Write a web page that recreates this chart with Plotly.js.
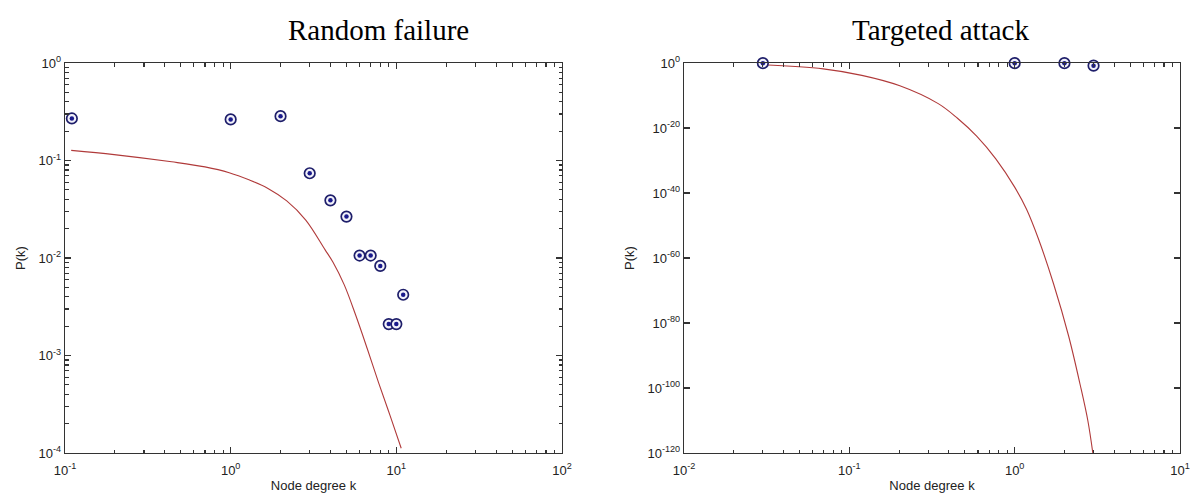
<!DOCTYPE html>
<html>
<head>
<meta charset="utf-8">
<script src="https://cdn.plot.ly/plotly-3.0.1.min.js"></script>
<style>html,body{margin:0;padding:0;background:#fff;}#chart{width:1194px;height:498px;}</style>
</head>
<body>
<div id="chart"></div>
<script>
// ---- Data: Random failure ----
const rfDegree = [0.11, 1, 2, 3, 4, 5, 6, 7, 8, 9, 10, 11];
const rfProb   = [0.27, 0.264, 0.285, 0.074, 0.039, 0.0266, 0.0106, 0.0106, 0.0083, 0.0021, 0.0021, 0.0042];
const rfFitK   = [0.109, 0.198, 0.44, 0.7, 0.98, 1.3, 1.67, 2.18, 2.84, 3.71, 4.14, 4.85, 5.68, 6.67, 7.83, 9.18, 10.7];
const rfFitP   = [0.127, 0.115, 0.097, 0.086, 0.075, 0.063, 0.052, 0.0385, 0.0245, 0.0122, 0.0091, 0.0053, 0.0026, 0.00118, 5.2e-4, 2.4e-4, 1.12e-4];

// ---- Data: Targeted attack ----
const taDegree = [0.03, 1, 2, 3];
const taProb   = [0.9, 0.9, 0.9, 0.15];
const taFitK   = [0.030, 0.0695, 0.119, 0.202, 0.345, 0.451, 0.589, 0.769, 1.0, 1.18, 1.39, 1.72, 2.12, 2.49, 2.77, 2.97];
const taFitP   = [0.3, 1.6e-2, 1.6e-4, 1e-7, 3.2e-13, 1e-17, 3.2e-23, 3.2e-30, 6.3e-39, 1e-45, 1e-54, 1e-68, 1e-84, 1e-99, 1e-110, 1e-120];

// ---- Tick labels ----
const rfXTicks = [0.1, 1, 10, 100];
const rfXText  = ['10<sup>-1</sup>', '10<sup>0</sup>', '10<sup>1</sup>', '10<sup>2</sup>'];
const rfYTicks = [1e-4, 1e-3, 1e-2, 1e-1, 1];
const rfYText  = ['10<sup>-4</sup>', '10<sup>-3</sup>', '10<sup>-2</sup>', '10<sup>-1</sup>', '10<sup>0</sup>'];
const taXTicks = [0.01, 0.1, 1, 10];
const taXText  = ['10<sup>-2</sup>', '10<sup>-1</sup>', '10<sup>0</sup>', '10<sup>1</sup>'];
const taYTicks = [1e-120, 1e-100, 1e-80, 1e-60, 1e-40, 1e-20, 1];
const taYText  = ['10<sup>-120</sup>', '10<sup>-100</sup>', '10<sup>-80</sup>', '10<sup>-60</sup>', '10<sup>-40</sup>', '10<sup>-20</sup>', '10<sup>0</sup>'];

function minorTicks(d0, d1) {
  const v = [];
  for (let d = d0; d < d1; d++) for (let m = 2; m <= 9; m++) v.push(m * Math.pow(10, d));
  return v;
}

const navy = '#1e1e6a';
const red = '#b03a3a';
const axisCol = '#333333';

function ringTrace(x, y, xa, ya) {
  return {x: x, y: y, xaxis: xa, yaxis: ya, type: 'scatter', mode: 'markers', cliponaxis: false,
    marker: {symbol: 'circle', size: 10.5, color: '#f2f2fa', line: {color: navy, width: 1.7}}, hoverinfo: 'x+y'};
}
function dotTrace(x, y, xa, ya) {
  return {x: x, y: y, xaxis: xa, yaxis: ya, type: 'scatter', mode: 'markers', cliponaxis: false,
    marker: {symbol: 'circle', size: 4.5, color: '#1a1a8c'}, hoverinfo: 'skip'};
}
function hiddenTrace(x, y, xa, ya) {
  return {x: x, y: y, xaxis: xa, yaxis: ya, type: 'scatter', mode: 'markers',
    marker: {size: 1, opacity: 0}, hoverinfo: 'skip'};
}

const traces = [
  hiddenTrace(rfDegree, rfProb, 'x3', 'y'),
  hiddenTrace(rfDegree, rfProb, 'x', 'y3'),
  hiddenTrace(taDegree, taProb, 'x4', 'y2'),
  {x: rfFitK, y: rfFitP, xaxis: 'x', yaxis: 'y', type: 'scatter', mode: 'lines',
   line: {color: red, width: 1.1, shape: 'spline', smoothing: 1}},
  ringTrace(rfDegree, rfProb, 'x', 'y'),
  dotTrace(rfDegree, rfProb, 'x', 'y'),
  {x: taFitK, y: taFitP, xaxis: 'x2', yaxis: 'y2', type: 'scatter', mode: 'lines',
   line: {color: red, width: 1.1, shape: 'spline', smoothing: 1}},
  ringTrace(taDegree, taProb, 'x2', 'y2'),
  dotTrace(taDegree, taProb, 'x2', 'y2')
];

const tickFont = {family: 'Liberation Sans, Arial, sans-serif', size: 13, color: '#222'};
const titleFont = {family: 'Liberation Sans, Arial, sans-serif', size: 13, color: '#222'};

function axisBase(extra) {
  return Object.assign({
    type: 'log', showgrid: false, zeroline: false, showline: true, linecolor: axisCol, linewidth: 1.3,
    mirror: 'ticks', ticks: 'inside', ticklen: 6, tickcolor: axisCol, tickwidth: 1.2,
    tickmode: 'array', tickfont: tickFont, automargin: false, fixedrange: true
  }, extra);
}
function minorAxis(extra) {
  return Object.assign({
    type: 'log', showgrid: false, zeroline: false, showline: false, showticklabels: false,
    mirror: 'ticks', ticks: 'inside', ticklen: 3.5, tickcolor: axisCol, tickwidth: 1.1,
    tickmode: 'array', automargin: false, fixedrange: true
  }, extra);
}

const layout = {
  width: 1194, height: 498,
  paper_bgcolor: '#fff', plot_bgcolor: '#fff',
  showlegend: false,
  margin: {l: 0, r: 0, t: 63, b: 45},
  xaxis: axisBase({domain: [65/1194, 562/1194], anchor: 'y', range: [-1, 2],
    tickvals: rfXTicks, ticktext: rfXText, ticklabelstandoff: 5,
    title: {text: 'Node degree k', font: titleFont, standoff: 4}}),
  yaxis: axisBase({domain: [0, 1], anchor: 'x', range: [-4, 0],
    tickvals: rfYTicks, ticktext: rfYText,
    title: {text: 'P(k)', font: titleFont, standoff: 10}}),
  xaxis2: axisBase({domain: [684/1194, 1180/1194], anchor: 'y2', range: [-2, 1],
    tickvals: taXTicks, ticktext: taXText, ticklabelstandoff: 5,
    title: {text: 'Node degree k', font: titleFont, standoff: 4}}),
  yaxis2: axisBase({domain: [0, 1], anchor: 'x2', range: [-120, 0],
    tickvals: taYTicks, ticktext: taYText,
    title: {text: 'P(k)', font: titleFont, standoff: 10}}),
  xaxis3: minorAxis({overlaying: 'x', anchor: 'y', side: 'bottom', range: [-1, 2], tickvals: minorTicks(-1, 2)}),
  yaxis3: minorAxis({overlaying: 'y', anchor: 'x', side: 'left', range: [-4, 0], tickvals: minorTicks(-4, 0)}),
  xaxis4: minorAxis({overlaying: 'x2', anchor: 'y2', side: 'bottom', range: [-2, 1], tickvals: minorTicks(-2, 1)}),
  annotations: [
    {text: 'Random failure', xref: 'paper', yref: 'paper', x: 378/1194, y: 1, yshift: 33,
     xanchor: 'center', yanchor: 'middle', showarrow: false,
     font: {family: 'Liberation Serif, Times New Roman, serif', size: 29, color: '#000'}},
    {text: 'Targeted attack', xref: 'paper', yref: 'paper', x: 940/1194, y: 1, yshift: 33,
     xanchor: 'center', yanchor: 'middle', showarrow: false,
     font: {family: 'Liberation Serif, Times New Roman, serif', size: 29, color: '#000'}}
  ]
};

Plotly.newPlot('chart', traces, layout, {displayModeBar: false, staticPlot: true});
</script>
</body>
</html>
